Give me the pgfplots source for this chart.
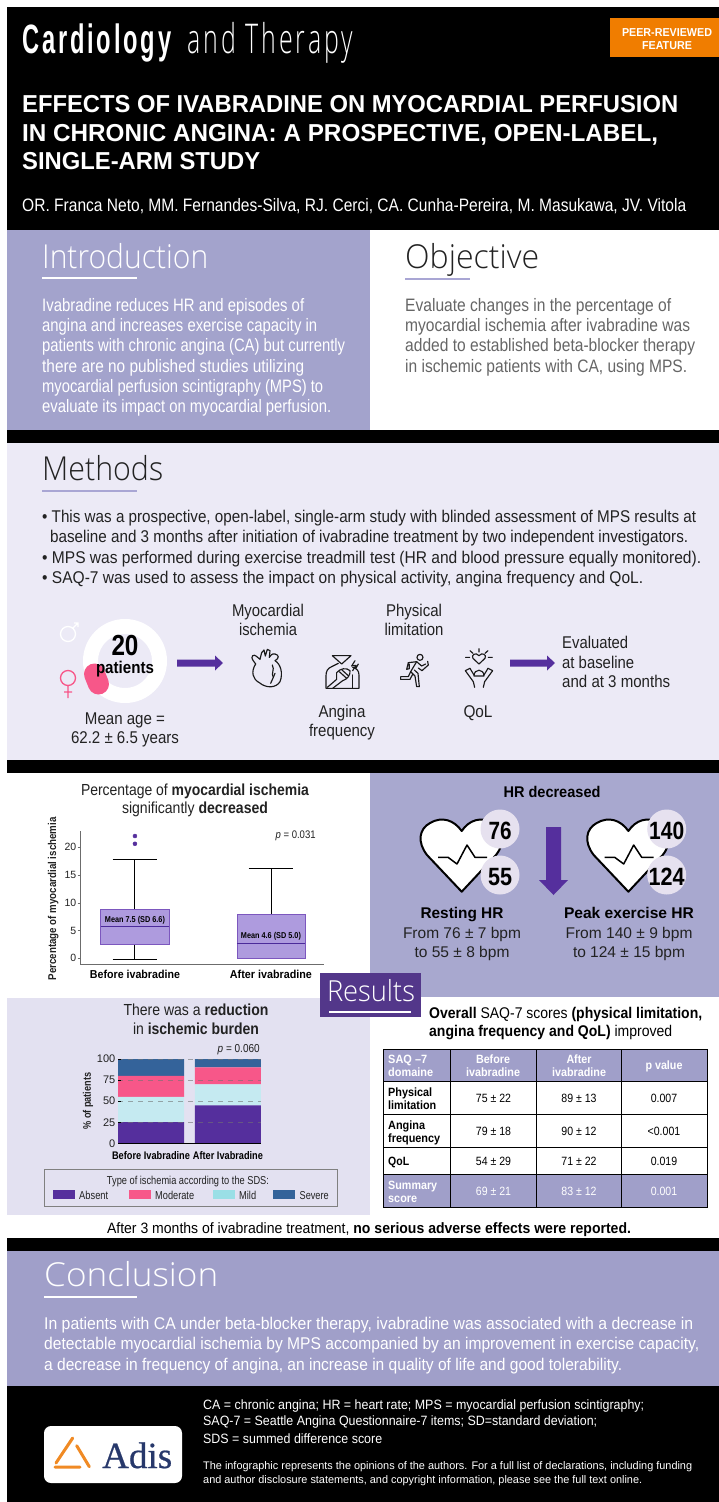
\documentclass[border=0pt]{standalone}
\usepackage{fontspec}
\usepackage{graphicx}
\usepackage{pgfplots}
\pgfplotsset{compat=1.18}
\usepgfplotslibrary{statistics}
\setmainfont{Liberation Sans}
\newfontfamily\spaced[LetterSpace=12]{Liberation Sans}
\newfontfamily\lightface{Open Sans Light}
\newfontfamily\lightspaced[LetterSpace=12]{Open Sans Light}
\newfontfamily\logoface[FakeBold=0.6]{Liberation Serif}

\definecolor{panelA}{HTML}{A3A3CC}
\definecolor{panelB}{HTML}{A8A8CF}
\definecolor{panelC}{HTML}{ECEAF6}
\definecolor{panelD}{HTML}{E3E1F1}
\definecolor{tablehead}{HTML}{A09FC9}
\definecolor{deep}{HTML}{53378A}
\definecolor{rule}{HTML}{A9A6D4}
\definecolor{body}{HTML}{222222}
\definecolor{soft}{HTML}{666666}
\definecolor{absent}{HTML}{552F9D}
\definecolor{moderate}{HTML}{F75789}
\definecolor{mildbar}{HTML}{C5EAF1}
\definecolor{mildkey}{HTML}{9ADFE6}
\definecolor{severe}{HTML}{34639A}
\definecolor{boxfill}{HTML}{AE9BDE}
\definecolor{boxedge}{HTML}{7C57BE}
\definecolor{median}{HTML}{4B2A9A}
\definecolor{disc}{HTML}{E6E1EF}
\definecolor{orangebox}{HTML}{F07D00}
\definecolor{adisblue}{HTML}{27386B}
\definecolor{adisorange}{HTML}{F08A24}

% Text lines stretched to a set width; y is the line's visual centre.
% #1 x, #2 y, #3 size, #4 colour, #5 width, #6 text
\newcommand{\Tl}[6]{\node[anchor=base west,inner sep=0pt,text=#4] at (#1,{#2+0.36*#3})
  {\resizebox{#5pt}{\height}{\fontsize{#3pt}{#3pt}\selectfont #6}};}
\newcommand{\Tc}[6]{\node[anchor=base,inner sep=0pt,text=#4] at (#1,{#2+0.36*#3})
  {\resizebox{#5pt}{\height}{\fontsize{#3pt}{#3pt}\selectfont #6}};}
% Fixed-width label used on the axes
\newcommand{\Fit}[3]{\resizebox{#1pt}{\height}{\fontsize{#2pt}{#2pt}\selectfont #3}}

\begin{document}
\begin{tikzpicture}
\useasboundingbox (0pt,0pt) rectangle (719pt,-1502pt);

% page structure and text
\begin{scope}[x=1pt,y=-1pt]
  \fill[white] (0,0) rectangle (719,1502);
  \fill[black] (7,7) rectangle (719,1502);
  \fill[panelA] (7,230) rectangle (370,430);
  \fill[white] (370,230) rectangle (719,430);
  \fill[panelC] (7,443) rectangle (719,760);
  \fill[white] (7,773) rectangle (719,1238);
  \fill[panelB] (370,773) rectangle (719,997);
  \fill[panelD] (7,998) rectangle (370,1215);
  \fill[tablehead] (7,1251) rectangle (719,1386);
  \fill[white] (0,0) rectangle (7,1502);

  % masthead
  \node[anchor=base west,inner sep=0pt,text=white] at (22,53)
    {\resizebox{152pt}{\height}{\fontsize{41pt}{41pt}\selectfont\spaced\textbf{Cardiology}}};
  \node[anchor=base west,inner sep=0pt,text=white] at (187,53)
    {\resizebox{166pt}{\height}{\fontsize{41pt}{41pt}\selectfont\lightspaced and Therapy}};
  \fill[orangebox] (610,18) rectangle (719,57);
  \Tc{667}{32}{11.5}{white}{90}{\textbf{PEER-REVIEWED}}
  \Tc{667}{45}{11.5}{white}{50}{\textbf{FEATURE}}
  \Tl{22}{104}{24.5}{white}{656}{\textbf{EFFECTS OF IVABRADINE ON MYOCARDIAL PERFUSION}}
  \Tl{22}{133}{24.5}{white}{636}{\textbf{IN CHRONIC ANGINA: A PROSPECTIVE, OPEN-LABEL,}}
  \Tl{22}{161}{24.5}{white}{238}{\textbf{SINGLE-ARM STUDY}}
  \Tl{22}{205}{18}{white}{664}{OR. Franca Neto, MM. Fernandes-Silva, RJ. Cerci, CA. Cunha-Pereira, M. Masukawa, JV. Vitola}

  % introduction
  \Tl{42}{257}{33}{white}{166}{\lightface Introduction}
  \draw[white,line width=1.2pt] (42,278) -- (137,278);
  \Tl{42}{305}{18}{white}{262}{Ivabradine reduces HR and episodes of}
  \Tl{42}{325}{18}{white}{275}{angina and increases exercise capacity in}
  \Tl{42}{345}{18}{white}{303}{patients with chronic angina (CA) but currently}
  \Tl{42}{366}{18}{white}{262}{there are no published studies utilizing}
  \Tl{42}{386}{18}{white}{281}{myocardial perfusion scintigraphy (MPS) to}
  \Tl{42}{406}{18}{white}{289}{evaluate its impact on myocardial perfusion.}

  % objective
  \Tl{405}{257}{33}{body}{134}{\lightface Objective}
  \draw[rule,line width=1.2pt] (405,279) -- (470,279);
  \Tl{405}{305}{18}{soft}{266}{Evaluate changes in the percentage of}
  \Tl{405}{325}{18}{soft}{285}{myocardial ischemia after ivabradine was}
  \Tl{405}{345}{18}{soft}{290}{added to established beta-blocker therapy}
  \Tl{405}{366}{18}{soft}{282}{in ischemic patients with CA, using MPS.}

  % methods
  \Tl{42}{469}{33}{body}{121}{\lightface Methods}
  \draw[rule,line width=1.2pt] (42,491) -- (137,491);
  \Tl{42}{516}{17}{body}{654}{• This was a prospective, open-label, single-arm study with blinded assessment of MPS results at}
  \Tl{50}{536}{17}{body}{638}{baseline and 3 months after initiation of ivabradine treatment by two independent investigators.}
  \Tl{42}{557}{17}{body}{659}{• MPS was performed during exercise treadmill test (HR and blood pressure equally monitored).}
  \Tl{42}{577}{17}{body}{601}{• SAQ-7 was used to assess the impact on physical activity, angina frequency and QoL.}

  % cohort ring
  \draw[white,line width=15pt] (125,661) circle (34.5);
  \draw[moderate,line width=21pt,line cap=round] (94.5,674) -- (98.5,684);
  \Tc{125}{645}{29}{black}{27}{\textbf{20}}
  \Tc{125}{667}{17}{black}{58}{\textbf{patients}}
  \draw[white,line width=1.3pt] (68,634) circle (7.5) (73,628) -- (78,623) (74,623) -- (78,623) -- (78,627);
  \draw[moderate,line width=1.3pt] (68,678) circle (7.5) (68,686) -- (68,698) (64,692) -- (72,692);
  \Tc{125}{718}{17}{body}{80}{Mean age =}
  \Tc{125}{737}{17}{body}{108}{62.2 ± 6.5 years}

  % arrows towards the endpoints
  \fill[absent] (177,659.5) -- (215,659.5) -- (215,655.5) -- (223,663) -- (215,670.5) -- (215,666.5) -- (177,666.5) -- cycle;
  \fill[absent] (510,659.5) -- (547,659.5) -- (547,655.5) -- (555,663) -- (547,670.5) -- (547,666.5) -- (510,666.5) -- cycle;

  \Tc{268}{610}{17}{body}{72}{Myocardial}
  \Tc{268}{629}{17}{body}{58}{ischemia}
  \Tc{414}{610}{17}{body}{56}{Physical}
  \Tc{414}{629}{17}{body}{59}{limitation}
  \Tc{342}{711}{17}{body}{47}{Angina}
  \Tc{342}{730}{17}{body}{66}{frequency}
  \Tc{478}{711}{17}{body}{29}{QoL}
  \Tl{562}{642}{17}{body}{66}{Evaluated}
  \Tl{562}{662}{17}{body}{72}{at baseline}
  \Tl{562}{681}{17}{body}{108}{and at 3 months}

  % line icons
  \begin{scope}[shift={(240,640)},x=.3333pt,y=-.3333pt,line width=1.15pt,black!90,line cap=round,line join=round]
    % heart
    \draw (47,72) .. controls (32,95) and (38,118) .. (58,128) .. controls (78,145) and (108,145) .. (120,125)
       .. controls (130,100) and (122,72) .. (105,62) .. controls (118,55) and (118,45) .. (105,42) .. controls (95,40) and (90,48) .. (88,52);
    \draw (47,72) .. controls (40,62) and (32,55) .. (38,47) .. controls (45,42) and (52,52) .. (60,58) -- (65,38) -- (72,30) -- (76,48) -- (82,28) -- (90,32) -- (88,52);
    \draw (97,75) .. controls (105,90) and (92,100) .. (100,112) -- (92,130);
    \draw (105,100) -- (100,112);
    % chest and hand
    \draw (277,47) -- (333,47) -- (305,72) -- cycle;
    \draw (295,70) -- (275,80) .. controls (262,85) and (258,95) .. (258,108) -- (258,145) -- (357,145) -- (357,105) .. controls (357,92) and (350,85) .. (338,82);
    \draw (338,145) -- (338,105);
    \draw (262,142) -- (290,118) -- (290,98) .. controls (300,85) and (320,82) .. (330,92) .. controls (332,105) and (322,118) .. (308,122) -- (278,145);
    \draw (298,95) -- (320,115) (306,90) -- (326,108);
    \draw (345,62) -- (335,78) -- (348,76) -- (338,92) (355,72) -- (347,86);
    % runner
    \draw (540,52) circle (9);
    \draw (505,68) -- (530,65) -- (545,78) -- (557,72) (563,64) -- (565,75) -- (546,92) -- (535,84);
    \draw (505,68) -- (500,88) (508,72) -- (508,86) -- (500,88);
    \draw (530,65) -- (512,95) -- (525,108) -- (530,140) -- (538,140) -- (534,100) -- (523,90);
    \draw (512,95) -- (505,110) -- (482,110) -- (482,118) -- (510,118) -- (518,103);
    % raised arms and heart
    \draw (717,72) -- (699,55) .. controls (692,45) and (708,35) .. (717,47) .. controls (726,35) and (742,45) .. (735,55) -- cycle;
    \draw (717,26) -- (717,36) (690,32) -- (699,40) (744,32) -- (735,40) (677,52) -- (689,52) (745,52) -- (757,52);
    \draw (702,108) .. controls (702,85) and (732,85) .. (732,108) -- cycle;
    \draw (690,85) -- (676,92) -- (700,125) -- (704,142);
    \draw (690,85) -- (702,105);
    \draw (744,85) -- (758,92) -- (734,125) -- (730,142);
    \draw (744,85) -- (732,105);
  \end{scope}

  % results, left column headings
  \Tc{195}{790}{16}{body}{228}{Percentage of \textbf{myocardial ischemia}}
  \Tc{195}{808}{16}{body}{146}{significantly \textbf{decreased}}
  \Tc{196}{1010}{16}{body}{145}{There was a \textbf{reduction}}
  \Tc{196}{1029}{16}{body}{126}{in \textbf{ischemic burden}}

  % heart rate panel
  \Tc{552}{792}{15.5}{black}{97}{\textbf{HR decreased}}
  \foreach \dx/\hrup/\hrdown/\wup/\wdown in {0/76/55/23/24,166.7/140/124/35/36}{
    \begin{scope}[xshift=\dx]
      \draw[black,fill=white,line width=2pt,line join=round]
        (461.7,891.7) -- (427,855) .. controls (417,842) and (419,829) .. (430,823)
        .. controls (442,816) and (454,820) .. (461.7,831)
        .. controls (469,820) and (481,816) .. (493,823)
        .. controls (504,829) and (506,842) .. (496,855) -- cycle;
      \draw[black,line width=1.5pt,line join=round] (438,857.3) -- (448,857.3) -- (457,864) -- (467,845) -- (475,857.3) -- (487,857.3);
      \fill[disc] (500,829) circle (19.5) (500,875) circle (19.5);
      \Tc{500}{830}{25}{black}{\wup}{\textbf{\hrup}}
      \Tc{500}{876}{25}{black}{\wdown}{\textbf{\hrdown}}
    \end{scope}
  }
  \fill[absent] (546,827) -- (561,827) -- (561,880) -- (568,880) -- (553.5,895) -- (539,880) -- (546,880) -- cycle;
  \Tc{462}{913}{15.5}{black}{83}{\textbf{Resting HR}}
  \Tc{462}{933}{15.5}{body}{118}{From 76 ± 7 bpm}
  \Tc{462}{952}{15.5}{body}{95}{to 55 ± 8 bpm}
  \Tc{629}{913}{15.5}{black}{130}{\textbf{Peak exercise HR}}
  \Tc{629}{933}{15.5}{body}{127}{From 140 ± 9 bpm}
  \Tc{629}{952}{15.5}{body}{112}{to 124 ± 15 bpm}

  % questionnaire table
  \Tl{429}{1013}{15.5}{black}{273}{\textbf{Overall} SAQ-7 scores \textbf{(physical limitation,}}
  \Tl{429}{1031}{15.5}{black}{243}{\textbf{angina frequency and QoL)} improved}
  \fill[tablehead] (383,1049) rectangle (707,1081) (383,1174) rectangle (707,1207);
  \draw[black,line width=.8pt] (383,1049) rectangle (707,1207)
     (383,1081) -- (707,1081) (383,1114) -- (707,1114) (383,1147) -- (707,1147) (383,1174) -- (707,1174)
     (450,1049) -- (450,1207) (536,1049) -- (536,1207) (621,1049) -- (621,1207);
  \Tl{388}{1059}{12}{white}{39}{\textbf{SAQ –7}}
  \Tl{388}{1072}{12}{white}{45}{\textbf{domaine}}
  \Tc{493}{1059}{12}{white}{34}{\textbf{Before}}
  \Tc{493}{1072}{12}{white}{54}{\textbf{ivabradine}}
  \Tc{579}{1059}{12}{white}{25}{\textbf{After}}
  \Tc{579}{1072}{12}{white}{54}{\textbf{ivabradine}}
  \Tc{664}{1065.5}{12}{white}{37}{\textbf{p value}}
  \Tl{388}{1092}{12}{black}{44}{\textbf{Physical}}
  \Tl{388}{1105}{12}{black}{48}{\textbf{limitation}}
  \Tl{388}{1125}{12}{black}{37}{\textbf{Angina}}
  \Tl{388}{1138}{12}{black}{52}{\textbf{frequency}}
  \Tl{388}{1161}{12}{black}{21}{\textbf{QoL}}
  \Tl{388}{1185}{12}{white}{49}{\textbf{Summary}}
  \Tl{388}{1198}{12}{white}{29}{\textbf{score}}
  \foreach \rowy/\colA/\colB/\colC/\rowink in {1098.5/75 ± 22/89 ± 13/0.007/black,1131/79 ± 18/90 ± 12/<0.001/black,1161/54 ± 29/71 ± 22/0.019/black,1191.5/69 ± 21/83 ± 12/0.001/white}{
    \node[text=\rowink,inner sep=0pt] at (493.5,\rowy) {\scalebox{.88}[1]{\fontsize{12}{12}\selectfont\colA}};
    \node[text=\rowink,inner sep=0pt] at (579,\rowy) {\scalebox{.88}[1]{\fontsize{12}{12}\selectfont\colB}};
    \node[text=\rowink,inner sep=0pt] at (664,\rowy) {\scalebox{.88}[1]{\fontsize{12}{12}\selectfont\colC}};
  }
  \Tc{369}{1228}{15}{black}{524}{After 3 months of ivabradine treatment, \textbf{no serious adverse effects were reported.}}

  % conclusion
  \Tl{44}{1275}{33}{white}{174}{\lightface Conclusion}
  \draw[white,line width=1.2pt] (44,1297) -- (137,1297);
  \Tl{44}{1323}{17}{white}{649}{In patients with CA under beta-blocker therapy, ivabradine was associated with a decrease in}
  \Tl{44}{1343}{17}{white}{655}{detectable myocardial ischemia by MPS accompanied by an improvement in exercise capacity,}
  \Tl{44}{1364}{17}{white}{578}{a decrease in frequency of angina, an increase in quality of life and good tolerability.}

  % footer
  \Tl{203}{1405}{13.5}{white}{441}{CA = chronic angina; HR = heart rate; MPS = myocardial perfusion scintigraphy;}
  \Tl{203}{1421}{13.5}{white}{394}{SAQ-7 = Seattle Angina Questionnaire-7 items; SD=standard deviation;}
  \Tl{203}{1439}{13.5}{white}{179}{SDS = summed difference score}
  \Tl{203}{1466}{11}{white}{489}{The infographic represents the opinions of the authors. For a full list of declarations, including funding}
  \Tl{203}{1480}{11}{white}{439}{and author disclosure statements, and copyright information, please see the full text online.}

  \fill[white,rounded corners=7pt] (44,1426) rectangle (182,1483);
  \draw[adisorange,line width=3pt,line cap=round] (72.7,1438) -- (56,1463) (76.7,1445.7) -- (89.3,1466.7) (55,1467) -- (80,1467);
  \node[anchor=base west,inner sep=0pt,text=adisblue] at (102,1468)
    {\resizebox{70pt}{\height}{\fontsize{37}{37}\selectfont\logoface Adis}};
\end{scope}

% boxplots of the ischemic percentage
\begin{axis}[
  at={(80pt,-964pt)},anchor=south west,
  scale only axis,width=244pt,height=133pt,
  xmin=0.596,xmax=2.39,ymin=-1.03,ymax=22.9,
  axis lines=left,
  axis line style={-,draw=gray!85!black,line width=.7pt},
  ytick={0,5,10,15,20},
  xtick={1,2},
  xticklabels={\Fit{90}{11.5}{\textbf{Before ivabradine}},\Fit{82}{11.5}{\textbf{After ivabradine}}},
  x tick label style={text=black},
  y tick label style={font=\fontsize{10.5}{10.5}\selectfont,text=body,inner sep=1pt},
  /pgf/number format/assume math mode=true,
  major tick length=2.5pt,tick align=outside,tick style={gray!85!black},
  xtick style={draw=none},
  ylabel={\Fit{163}{11.3}{\textbf{Percentage of myocardial ischemia}}},
  every axis y label/.style={at={(axis description cs:-0.11,0.49)},rotate=90,anchor=center,text=body},
  boxplot/draw direction=y,
  boxplot/box extend=0.5,
  boxplot/whisker extend=0.33,
  boxplot/every box/.style={draw=boxedge,fill=boxfill,line width=.9pt},
  boxplot/every whisker/.style={draw=black,line width=.9pt},
  boxplot/every median/.style={draw=median,line width=.9pt},
  clip=false,
]
\addplot[boxplot prepared={draw position=1,lower whisker=-0.15,lower quartile=2.5,median=5.8,upper quartile=8.8,upper whisker=17.7},
  mark=*,mark size=2pt,mark options={draw=absent,fill=absent}]
  coordinates {(0,20.6)(0,22)};
\addplot[boxplot prepared={draw position=2,lower whisker=-0.1,lower quartile=-0.1,median=2.7,upper quartile=7.9,upper whisker=16.2}]
  coordinates {};
\node[inner sep=0pt,text=black] at (axis cs:1,6.88) {\Fit{60}{8.5}{\textbf{Mean 7.5 (SD 6.6)}}};
\node[inner sep=0pt,text=black] at (axis cs:2,3.9) {\Fit{60}{8.5}{\textbf{Mean 4.6 (SD 5.0)}}};
\node[inner sep=0pt,anchor=east,text=body] at (axis cs:2.33,22.1) {\Fit{40}{11}{\textit{p} = 0.031}};
\end{axis}

% stacked bars of the ischemia categories
\begin{axis}[
  at={(118pt,-1143.3pt)},anchor=south west,
  scale only axis,width=143pt,height=84.3pt,
  ybar stacked,bar width=66pt,
  xmin=0.571,xmax=2.429,ymin=0,ymax=100,
  axis on top,
  axis x line*=bottom,axis y line*=left,
  axis line style={-},
  y axis line style={draw=none},
  x axis line style={black,line width=1pt},
  xtick={1,2},
  xticklabels={\Fit{78}{11}{\textbf{Before Ivabradine}},\Fit{70}{11}{\textbf{After Ivabradine}}},
  xtick style={draw=none},
  x tick label style={text=black,yshift=-5pt},
  ytick={0,25,50,75,100},
  y tick label style={font=\fontsize{11}{11}\selectfont,text=body,inner sep=2.5pt},
  /pgf/number format/assume math mode=true,
  ylabel={\Fit{57}{11}{\textbf{\% of patients}}},
  every axis y label/.style={at={(axis description cs:-0.21,0.5)},rotate=90,anchor=center,text=body},
  ymajorgrids,
  grid style={dash pattern=on 5pt off 5pt,gray!90!black,opacity=.6,line width=.7pt},
  major tick length=2.5pt,ytick style={black,line width=.7pt},
  clip=false,
]
\addplot[fill=absent,draw=none] coordinates {(1,25)(2,45)};
\addplot[fill=mildbar,draw=none] coordinates {(1,30)(2,25)};
\addplot[fill=moderate,draw=none] coordinates {(1,25)(2,20)};
\addplot[fill=severe,draw=none] coordinates {(1,20)(2,10)};
% matching tick marks along the right edge
\pgfplotsinvokeforeach{25,50,75,100}{
  \draw[black,line width=.7pt] (axis cs:2.429,#1) -- ++(-2.5pt,0pt);
}
\node[inner sep=0pt,anchor=east,text=body] at (axis cs:2.415,111.5) {\Fit{42}{11.5}{\textit{p} = 0.060}};
\end{axis}

% legend frame and the badge across the columns
\begin{scope}[x=1pt,y=-1pt]
  \draw[gray,line width=.9pt] (44,1169) rectangle (337,1206);
  \Tc{188}{1180}{11.5}{body}{162}{Type of ischemia according to the SDS:}
  \fill[absent] (53,1190) rectangle (75,1199);
  \Tl{79}{1195}{11.5}{body}{29}{Absent}
  \fill[moderate] (129,1190) rectangle (151,1199);
  \Tl{155}{1195}{11.5}{body}{39}{Moderate}
  \fill[mildkey] (213,1190) rectangle (235,1199);
  \Tl{239}{1195}{11.5}{body}{17}{Mild}
  \fill[severe] (273,1190) rectangle (295,1199);
  \Tl{299.5}{1195}{11.5}{body}{29}{Severe}

  \fill[deep] (320,973) rectangle (421,1017);
  \Tc{371}{991}{29}{white}{88}{\lightface Results}
  \draw[white,line width=1.2pt] (329,1012) -- (411,1012);
\end{scope}
\end{tikzpicture}
\end{document}
